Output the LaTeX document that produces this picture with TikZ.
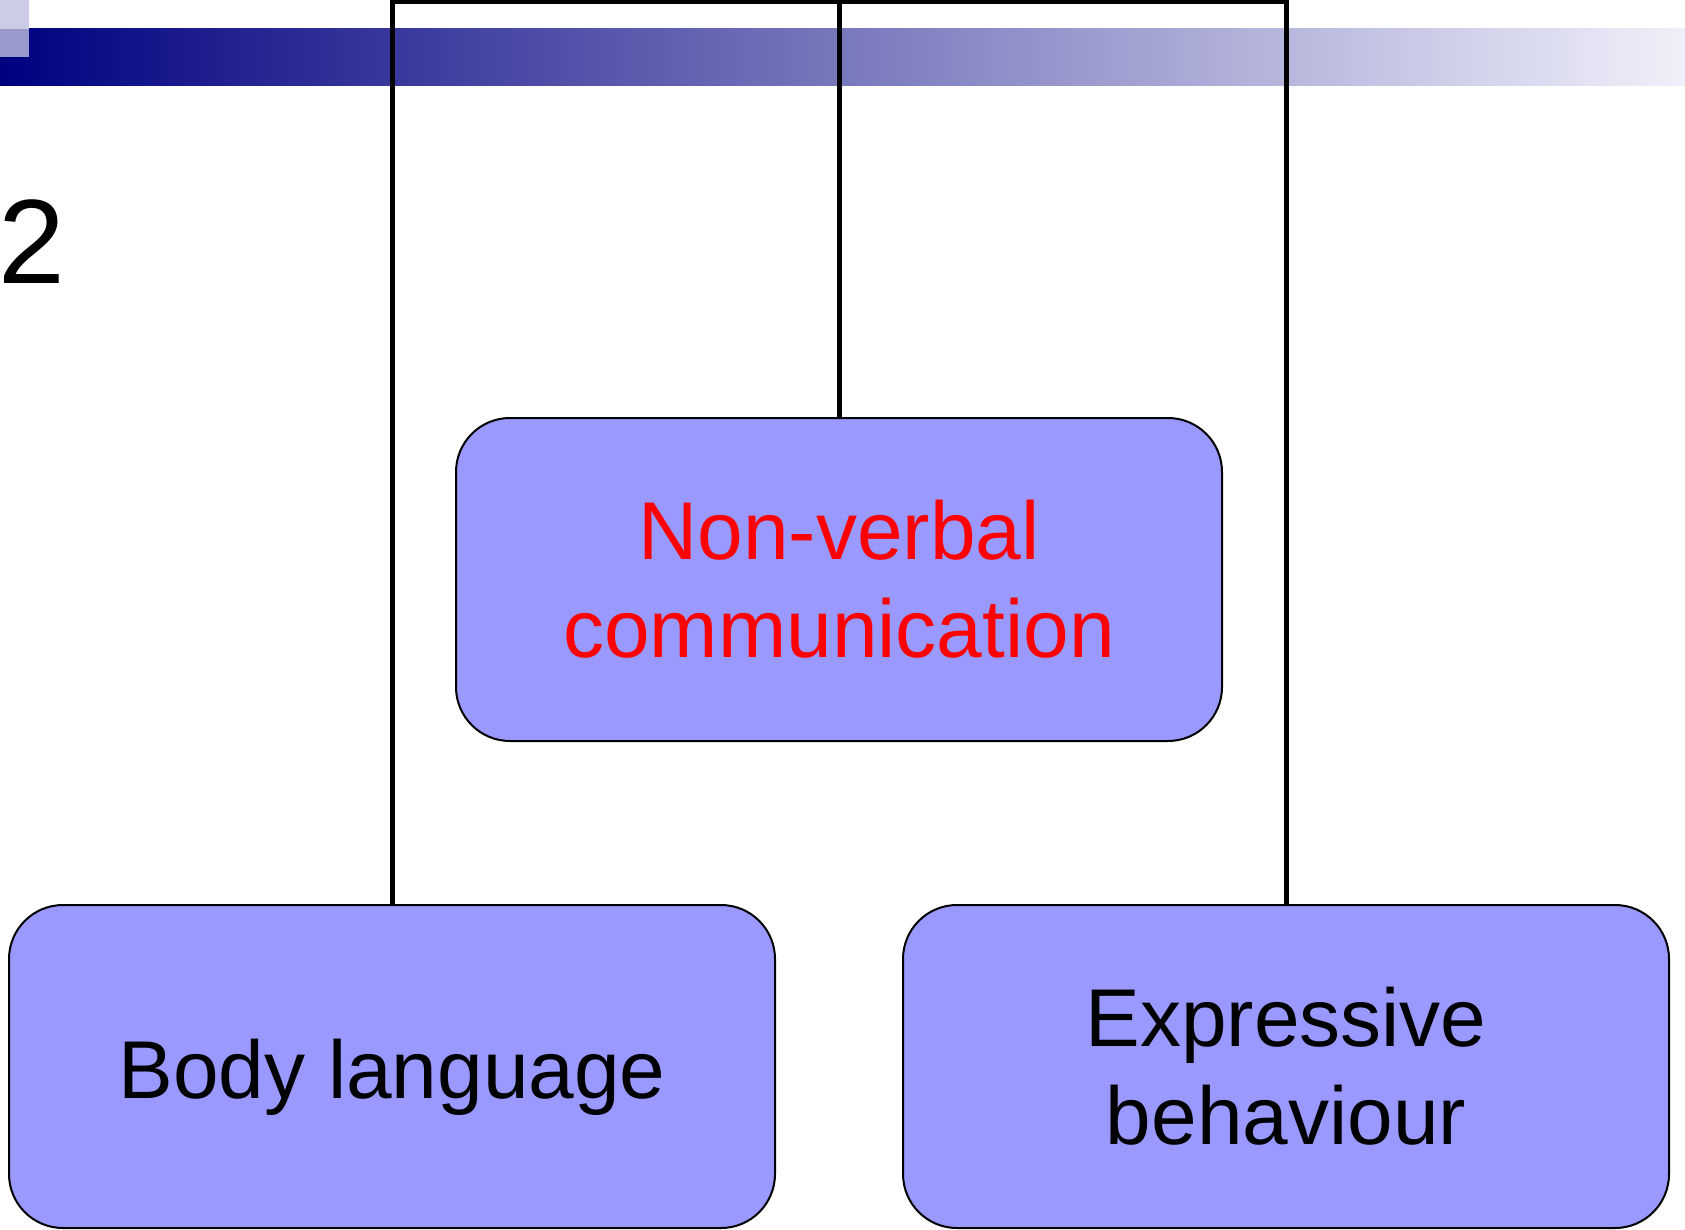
\documentclass[tikz,border=0pt]{standalone}
\usepackage{fontspec}
\setmainfont{Liberation Sans}
\usetikzlibrary{backgrounds}
\definecolor{boxfill}{RGB}{153,153,255}
\definecolor{navyL}{RGB}{0,0,128}
\definecolor{paleR}{RGB}{240,240,250}
\definecolor{sqtop}{RGB}{204,204,230}
\definecolor{sqbot}{RGB}{153,153,204}
\tikzset{
  orgbox/.style={draw=black, line width=1pt, fill=boxfill, rounded corners=27pt,
    minimum width=383pt, minimum height=161.5pt, align=center, inner sep=0pt,
    font=\fontsize{41pt}{49pt}\selectfont},
  conn/.style={draw=black, line width=2.5pt, line join=miter}
}
\begin{document}
\begin{tikzpicture}[x=0.5pt,y=-0.5pt]
\useasboundingbox (0,0) rectangle (1685,1230);
\node[orgbox, text=red] (nv) at (839,579.5) {Non-verbal\\communication};
\node[orgbox, text height=32pt, text depth=0pt] (body) at (392,1066.5) {Body language};
\node[orgbox] (expr) at (1286,1066.5) {Expressive\\behaviour};
\node[anchor=base west, inner sep=0pt, font=\fontsize{60pt}{72pt}\selectfont] (num) at (-2,283) {2};
\coordinate (tl) at (392,2);
\coordinate (tm) at (839,2);
\coordinate (tr) at (1286,2);
\begin{pgfonlayer}{background}
  \shade[left color=navyL, right color=paleR] (0,29) rectangle (1685,86);
  \fill[sqtop] (0,0) rectangle (29,29);
  \fill[sqbot] (0,29) rectangle (29,57);
  \draw[conn] (body.north) -- (tl) -- (tr) -- (expr.north);
  \draw[conn] (nv.north) -- (tm);
\end{pgfonlayer}
\end{tikzpicture}
\end{document}
